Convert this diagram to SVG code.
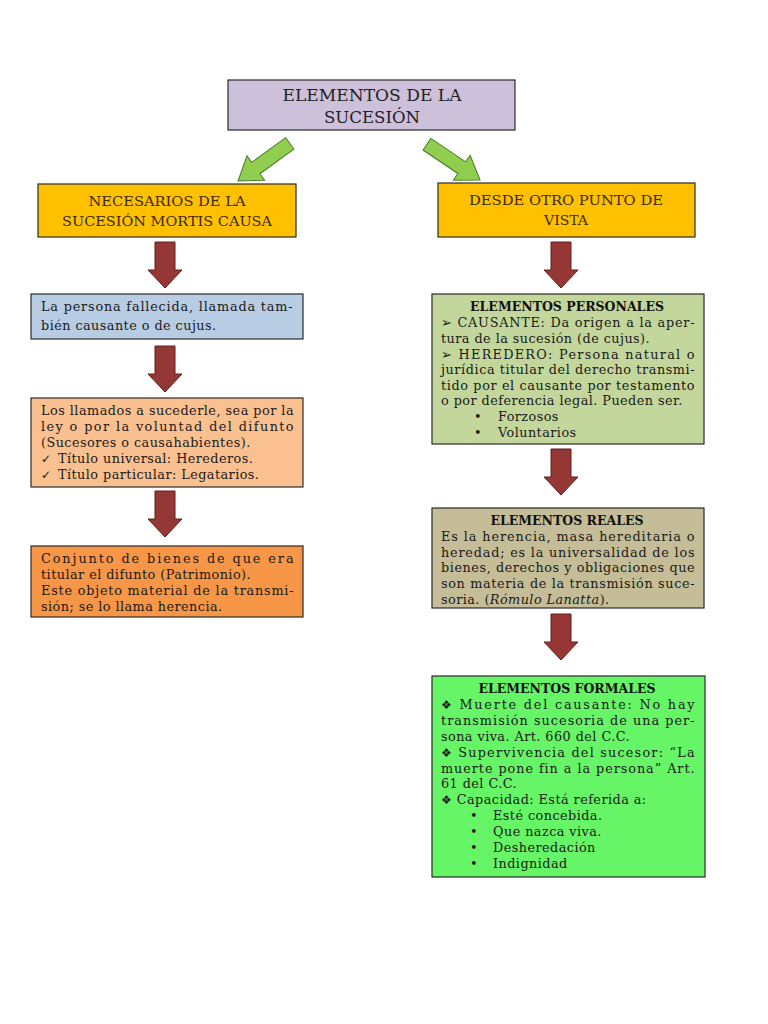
<svg xmlns="http://www.w3.org/2000/svg" width="768" height="1024" viewBox="0 0 768 1024">
<defs>
<style>
.box{stroke:#2a2a2a;stroke-width:1.2}
.t{font-family:"DejaVu Serif","Liberation Serif",serif;font-size:12.8px;letter-spacing:0.45px;fill:#1a1a1a}
.h{font-family:"DejaVu Serif","Liberation Serif",serif;font-size:12.5px;font-weight:bold;fill:#111;text-anchor:middle}
.cap{font-family:"DejaVu Serif","Liberation Serif",serif;font-size:12.5px;fill:#3a2a10;text-anchor:middle}
.ttl{font-family:"DejaVu Serif","Liberation Serif",serif;font-size:16px;fill:#222;text-anchor:middle}
.sym{font-family:"DejaVu Sans",sans-serif}
.ga{fill:#8fce4f;stroke:#4a7a25;stroke-width:1}
.ra{fill:#953735;stroke:#5e1f1e;stroke-width:1}
</style>
<path id="redArrow" d="M-10,0 H10 V28 H17 L0,46 L-17,28 H-10 Z"/>
<path id="greenArrow" d="M0,0 L-22,-15 L-22,-7 L-64,-7 L-64,7 L-22,7 L-22,15 Z"/>
</defs>
<rect width="768" height="1024" fill="#ffffff"/>

<g id="connectors">
<use href="#greenArrow" class="ga" transform="translate(238,181) rotate(144)"/>
<use href="#greenArrow" class="ga" transform="translate(480,180) rotate(34)"/>
<use href="#redArrow" class="ra" transform="translate(165,242)"/>
<use href="#redArrow" class="ra" transform="translate(165,346)"/>
<use href="#redArrow" class="ra" transform="translate(165,491)"/>
<use href="#redArrow" class="ra" transform="translate(561,242)"/>
<use href="#redArrow" class="ra" transform="translate(561,449)"/>
<use href="#redArrow" class="ra" transform="translate(561,614)"/>
</g>

<g id="title">
<rect class="box" x="228" y="80" width="287" height="50" fill="#ccc0da"/>
<text class="ttl" x="372" y="101" textLength="179" lengthAdjust="spacingAndGlyphs">ELEMENTOS DE LA</text>
<text class="ttl" x="372" y="123" textLength="96" lengthAdjust="spacingAndGlyphs">SUCESIÓN</text>
</g>

<g id="necesarios">
<rect class="box" x="38" y="184" width="258" height="53" fill="#ffc000"/>
<text class="cap" x="167" y="206" textLength="157" lengthAdjust="spacingAndGlyphs">NECESARIOS DE LA</text>
<text class="cap" x="167" y="226" textLength="210" lengthAdjust="spacingAndGlyphs">SUCESIÓN MORTIS CAUSA</text>
</g>

<g id="desde">
<rect class="box" x="438" y="183" width="257" height="54" fill="#ffc000"/>
<text class="cap" x="566" y="205" textLength="194" lengthAdjust="spacingAndGlyphs">DESDE OTRO PUNTO DE</text>
<text class="cap" x="566" y="225" textLength="44" lengthAdjust="spacingAndGlyphs">VISTA</text>
</g>

<g id="causante">
<rect class="box" x="31" y="294" width="272" height="45" fill="#b8cce4"/>
<text class="t" x="41" y="311" textLength="252" lengthAdjust="spacing">La persona fallecida, llamada tam-</text>
<text class="t" x="41" y="330">bién causante o de cujus.</text>
</g>

<g id="sucesores">
<rect class="box" x="31" y="398" width="272" height="89" fill="#fac090"/>
<text class="t" x="41" y="415" textLength="253" lengthAdjust="spacing">Los llamados a sucederle, sea por la</text>
<text class="t" x="41" y="431" textLength="253" lengthAdjust="spacing">ley o por la voluntad del difunto</text>
<text class="t" x="41" y="447">(Sucesores o causahabientes).</text>
<text class="t" x="41" y="463"><tspan class="sym" font-size="12">✓</tspan><tspan x="58">Título universal: Herederos.</tspan></text>
<text class="t" x="41" y="479"><tspan class="sym" font-size="12">✓</tspan><tspan x="58">Título particular: Legatarios.</tspan></text>
</g>

<g id="patrimonio">
<rect class="box" x="31" y="546" width="272" height="71" fill="#f79646"/>
<text class="t" x="41" y="563" textLength="253" lengthAdjust="spacing">Conjunto de bienes  de que era</text>
<text class="t" x="41" y="579">titular el difunto (Patrimonio).</text>
<text class="t" x="41" y="595" textLength="253" lengthAdjust="spacing">Este objeto material de la transmi-</text>
<text class="t" x="41" y="611">sión; se lo llama herencia.</text>
</g>

<g id="personales">
<rect class="box" x="432" y="294" width="272" height="150" fill="#c3d69b"/>
<text class="h" x="567" y="311">ELEMENTOS PERSONALES</text>
<text class="t" x="441" y="327" textLength="254" lengthAdjust="spacing"><tspan class="sym" font-size="13">➢</tspan> CAUSANTE: Da origen a la aper-</text>
<text class="t" x="441" y="343">tura de la sucesión (de cujus).</text>
<text class="t" x="441" y="359" textLength="254" lengthAdjust="spacing"><tspan class="sym" font-size="13">➢</tspan> HEREDERO: Persona natural o</text>
<text class="t" x="441" y="374" textLength="254" lengthAdjust="spacing">jurídica titular del derecho transmi-</text>
<text class="t" x="441" y="390" textLength="254" lengthAdjust="spacing">tido por el causante por testamento</text>
<text class="t" x="441" y="405">o por deferencia legal. Pueden ser.</text>
<text class="t" x="474" y="421">•<tspan x="498">Forzosos</tspan></text>
<text class="t" x="474" y="437">•<tspan x="498">Voluntarios</tspan></text>
</g>

<g id="reales">
<rect class="box" x="432" y="508" width="272" height="100" fill="#c4bd97"/>
<text class="h" x="567" y="525">ELEMENTOS REALES</text>
<text class="t" x="441" y="541" textLength="254" lengthAdjust="spacing">Es la herencia, masa hereditaria o</text>
<text class="t" x="441" y="557" textLength="254" lengthAdjust="spacing">heredad; es la universalidad de los</text>
<text class="t" x="441" y="572" textLength="254" lengthAdjust="spacing">bienes, derechos y obligaciones que</text>
<text class="t" x="441" y="588" textLength="254" lengthAdjust="spacing">son materia de la transmisión suce-</text>
<text class="t" x="441" y="604">soria. (<tspan font-style="italic">Rómulo Lanatta</tspan>).</text>
</g>

<g id="formales">
<rect class="box" x="432" y="676" width="273" height="201" fill="#66f566"/>
<text class="h" x="567" y="693">ELEMENTOS FORMALES</text>
<text class="t" x="441" y="709" textLength="254" lengthAdjust="spacing"><tspan class="sym" font-size="12">❖</tspan> Muerte del causante: No hay</text>
<text class="t" x="441" y="725" textLength="254" lengthAdjust="spacing">transmisión sucesoria de una per-</text>
<text class="t" x="441" y="741">sona viva. Art. 660 del C.C.</text>
<text class="t" x="441" y="757" textLength="254" lengthAdjust="spacing"><tspan class="sym" font-size="12">❖</tspan> Supervivencia del sucesor: “La</text>
<text class="t" x="441" y="773" textLength="254" lengthAdjust="spacing">muerte pone fin a la persona” Art.</text>
<text class="t" x="441" y="788">61 del C.C.</text>
<text class="t" x="441" y="804"><tspan class="sym" font-size="12">❖</tspan> Capacidad: Está referida a:</text>
<text class="t" x="470" y="820">•<tspan x="493">Esté concebida.</tspan></text>
<text class="t" x="470" y="836">•<tspan x="493">Que nazca viva.</tspan></text>
<text class="t" x="470" y="852">•<tspan x="493">Desheredación</tspan></text>
<text class="t" x="470" y="868">•<tspan x="493">Indignidad</tspan></text>
</g>
</svg>
